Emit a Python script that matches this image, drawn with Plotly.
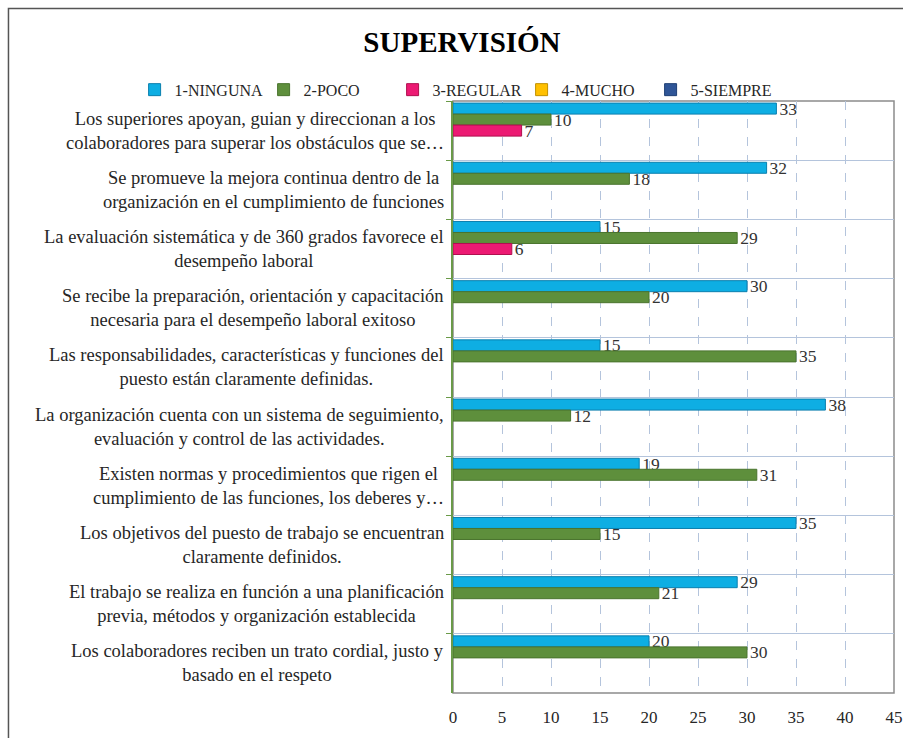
import plotly.graph_objects as go

categories = [
    "Los superiores apoyan, guian y direccionan a los<br>colaboradores para superar los obstáculos que se…",
    "Se promueve la mejora continua dentro de la<br>organización en el cumplimiento de funciones",
    "La evaluación sistemática y de 360 grados favorece el<br>desempeño laboral",
    "Se recibe la preparación, orientación y capacitación<br>necesaria para el desempeño laboral exitoso",
    "Las responsabilidades, características y funciones del<br>puesto están claramente definidas.",
    "La organización cuenta con un sistema de seguimiento,<br>evaluación y control de las actividades.",
    "Existen normas y procedimientos que rigen el<br>cumplimiento de las funciones, los deberes y…",
    "Los objetivos del puesto de trabajo se encuentran<br>claramente definidos.",
    "El trabajo se realiza en función a una planificación<br>previa, métodos y organización establecida",
    "Los colaboradores reciben un trato cordial, justo y<br>basado en el respeto",
]
cat_ids = [f"c{i}" for i in range(len(categories))]

series_names = ["1-NINGUNA", "2-POCO", "3-REGULAR", "4-MUCHO", "5-SIEMPRE"]
ninguna = [33, 32, 15, 30, 15, 38, 19, 35, 29, 20]
poco = [10, 18, 29, 20, 35, 12, 31, 15, 21, 30]
regular = [7, None, 6, None, None, None, None, None, None, None]
mucho = [None] * 10
siempre = [None] * 10
series_values = [ninguna, poco, regular, mucho, siempre]

x_ticks = [0, 5, 10, 15, 20, 25, 30, 35, 40, 45]

fill_colors = ["#0EAEE3", "#5E8F3C", "#EC1A73", "#FFC000", "#2F5597"]
line_colors = ["#0A7FAE", "#4A742E", "#B0104F", "#C09000", "#1F3F75"]

FONT = "Liberation Serif"

fig = go.Figure()
for name, vals, fc, lc in zip(series_names, series_values, fill_colors, line_colors):
    fig.add_trace(go.Bar(
        y=cat_ids, x=vals, name=name, orientation="h",
        marker=dict(color=fc, line=dict(color=lc, width=1)),
        text=[("" if v is None else str(v)) for v in vals],
        textposition="outside", constraintext="none", cliponaxis=False,
        textfont=dict(family=FONT, size=17.5, color="#333333"),
    ))

for cid, label in zip(cat_ids, categories):
    fig.add_annotation(
        x=-0.016, xref="paper", y=cid, yref="y",
        text=label, showarrow=False, xanchor="right", align="center",
        font=dict(family=FONT, size=18.5, color="#262626"),
    )

# plot area border (gray) and outer frame
fig.add_shape(type="rect", xref="paper", yref="paper", x0=0, x1=1, y0=0, y1=1,
              line=dict(color="#8C8C8C", width=1.5), layer="below")
fig.add_shape(type="rect", xref="paper", yref="paper", x0=-1.008, x1=1.1, y0=-0.2, y1=1.1562,
              line=dict(color="#555555", width=1.5), layer="below")

fig.update_layout(
    width=903, height=738,
    margin=dict(l=453, r=9, t=101, b=45, autoexpand=False),
    paper_bgcolor="white", plot_bgcolor="white",
    barmode="group", bargap=0.07, bargroupgap=0,
    title=dict(text="<b>SUPERVISIÓN</b>", x=0.5116, xanchor="center", xref="container",
               y=0.943, yanchor="middle", yref="container",
               font=dict(family=FONT, size=29, color="#000000")),
    legend=dict(orientation="h", xref="paper", yref="paper",
                x=-0.722, xanchor="left", y=1.019, yanchor="middle",
                font=dict(family=FONT, size=16, color="#262626"),
                bgcolor="rgba(0,0,0,0)", itemwidth=30, tracegroupgap=0,
                entrywidth=84, entrywidthmode="pixels"),
    showlegend=True,
)
fig.update_xaxes(
    automargin=False,
    range=[0, 45], tickvals=x_ticks, ticktext=[str(t) for t in x_ticks],
    showgrid=True, gridcolor="#B4C4DC", griddash="dash", gridwidth=1,
    zeroline=False, showline=False, ticks="",
    tickfont=dict(family=FONT, size=17, color="#262626"), ticklabelstandoff=12,
)
fig.update_yaxes(
    automargin=False,
    type="category", categoryorder="array", categoryarray=cat_ids,
    autorange="reversed", showticklabels=False,
    tickson="boundaries", ticks="outside", ticklen=5, tickcolor="#6A9A48",
    showgrid=True, gridcolor="#B4C4DC", gridwidth=1,
    showline=True, linecolor="#6A9A48", linewidth=1.5,
)

fig.write_html(
    "out.html",
    config={"displayModeBar": False},
    post_script="document.body.style.margin='0';document.body.style.overflow='hidden';",
)
